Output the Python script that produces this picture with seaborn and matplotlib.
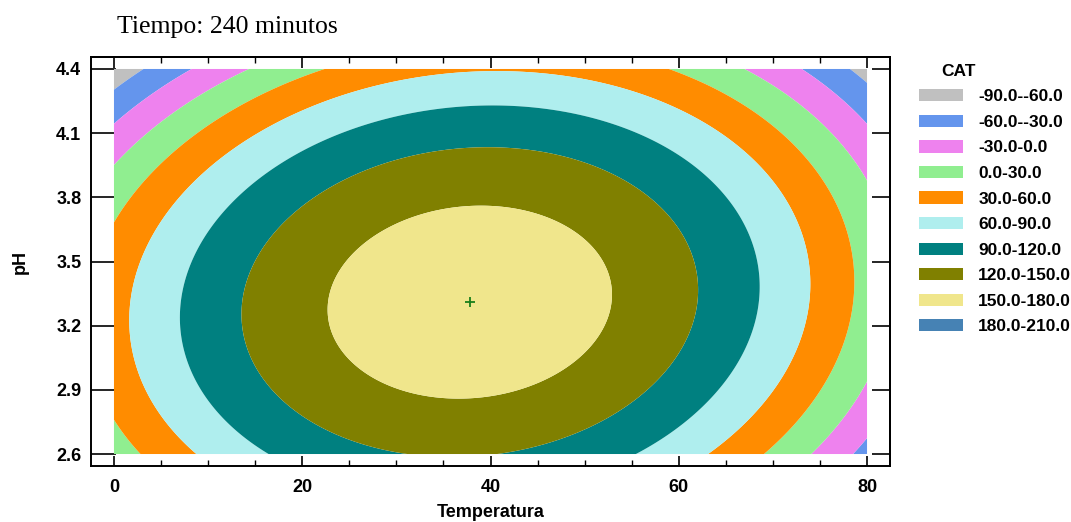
import numpy as np
import matplotlib
matplotlib.use("Agg")
import matplotlib.pyplot as plt
from matplotlib.patches import Patch
from matplotlib.ticker import MultipleLocator
import seaborn as sns

# Fitted quadratic response surface for CAT after 240 minutes
t_opt = 37.8        # temperature at the optimum
ph_opt = 3.31       # pH at the optimum
cat_max = 169.0     # predicted CAT at the optimum
coef_tt = -0.0838   # temperature curvature
coef_pp = -94.0     # pH curvature
coef_tp = 0.44      # temperature x pH interaction

temp_range = [0, 80]
ph_range = [2.6, 4.4]

levels = [-90, -60, -30, 0, 30, 60, 90, 120, 150, 180, 210]
level_labels = ["-90.0--60.0", "-60.0--30.0", "-30.0-0.0", "0.0-30.0", "30.0-60.0",
                "60.0-90.0", "90.0-120.0", "120.0-150.0", "150.0-180.0", "180.0-210.0"]
level_colors = ["#C0C0C0", "#6495ED", "#EE82EE", "#90EE90", "#FF8C00",
                "#AFEEEE", "#008080", "#808000", "#F0E68C", "#4682B4"]

x_ticks = [0, 20, 40, 60, 80]
y_ticks = [2.6, 2.9, 3.2, 3.5, 3.8, 4.1, 4.4]

sns.set_style("white")
plt.rcParams["font.family"] = ["Liberation Sans", "DejaVu Sans"]
for key in ["text.color", "axes.labelcolor", "xtick.color", "ytick.color", "axes.edgecolor"]:
    plt.rcParams[key] = "black"

# Evaluate the fitted model over the experimental region
t = np.linspace(temp_range[0], temp_range[1], 400)
ph = np.linspace(ph_range[0], ph_range[1], 400)
T, P = np.meshgrid(t, ph)
dT, dP = T - t_opt, P - ph_opt
Z = cat_max + coef_tt * dT**2 + coef_pp * dP**2 + coef_tp * dT * dP

fig = plt.figure(figsize=(10.71, 5.22), dpi=100)
ax = fig.add_axes([91 / 1071, 1 - 466 / 522, (890 - 91) / 1071, (466 - 57) / 522])

ax.contourf(T, P, Z, levels=levels, colors=level_colors, antialiased=True)
sns.scatterplot(x=[t_opt], y=[ph_opt], marker="+", color="#1a7f1a", s=45,
                linewidth=1.3, ax=ax, legend=False, zorder=5)

ax.set_xlim(-2.44, 82.44)
ax.set_ylim(2.544, 4.456)

ax.set_xticks(x_ticks)
ax.set_yticks(y_ticks)
ax.set_xticklabels([str(v) for v in x_ticks])
ax.set_yticklabels([f"{v:.1f}" for v in y_ticks])
ax.xaxis.set_minor_locator(MultipleLocator(5))

for s in ax.spines.values():
    s.set_linewidth(1.4)
    s.set_color("black")

ax.tick_params(axis="x", which="major", direction="in", length=7, width=1.2,
               pad=9, labelsize=13, bottom=True, top=False)
ax.tick_params(axis="x", which="minor", direction="in", length=4, width=1.0,
               bottom=True, top=False)
ax.tick_params(axis="y", which="major", direction="in", length=18, width=1.2,
               pad=7, labelsize=13, left=True, right=False)
for lab in ax.get_xticklabels() + ax.get_yticklabels():
    lab.set_fontweight("bold")

# Ticks on the top and right edges
top = ax.secondary_xaxis("top")
top.set_xticks(x_ticks)
top.set_xticklabels([])
top.xaxis.set_minor_locator(MultipleLocator(5))
top.tick_params(which="major", direction="in", length=8, width=1.2)
top.tick_params(which="minor", direction="in", length=4, width=1.0)
top.spines["top"].set_linewidth(1.4)

right = ax.secondary_yaxis("right")
right.set_yticks(y_ticks)
right.set_yticklabels([])
right.tick_params(which="major", direction="in", length=13, width=1.2)
right.spines["right"].set_linewidth(1.4)

ax.set_xlabel("Temperatura", fontsize=13, fontweight="bold", labelpad=6)
ax.set_ylabel("pH", fontsize=13, fontweight="bold", labelpad=20)

fig.text(117 / 1071, 1 - 27 / 522, "Tiempo: 240 minutos", fontsize=18.5,
         family=["Liberation Serif", "DejaVu Serif"], ha="left", va="center")

handles = [Patch(facecolor=c, edgecolor="none") for c in level_colors]
fig.text(958 / 1071, 1 - 71 / 522, "CAT", fontsize=12.5, fontweight="bold",
         ha="center", va="center")
fig.legend(handles, level_labels, loc="upper left",
           bbox_to_anchor=(914 / 1071, 1 - 84 / 522), frameon=False,
           prop={"size": 12.5, "weight": "bold"}, handlelength=2.55,
           handleheight=0.7, handletextpad=0.85, labelspacing=0.6,
           borderaxespad=0, borderpad=0.3)

fig.savefig("out.png", dpi=100)
